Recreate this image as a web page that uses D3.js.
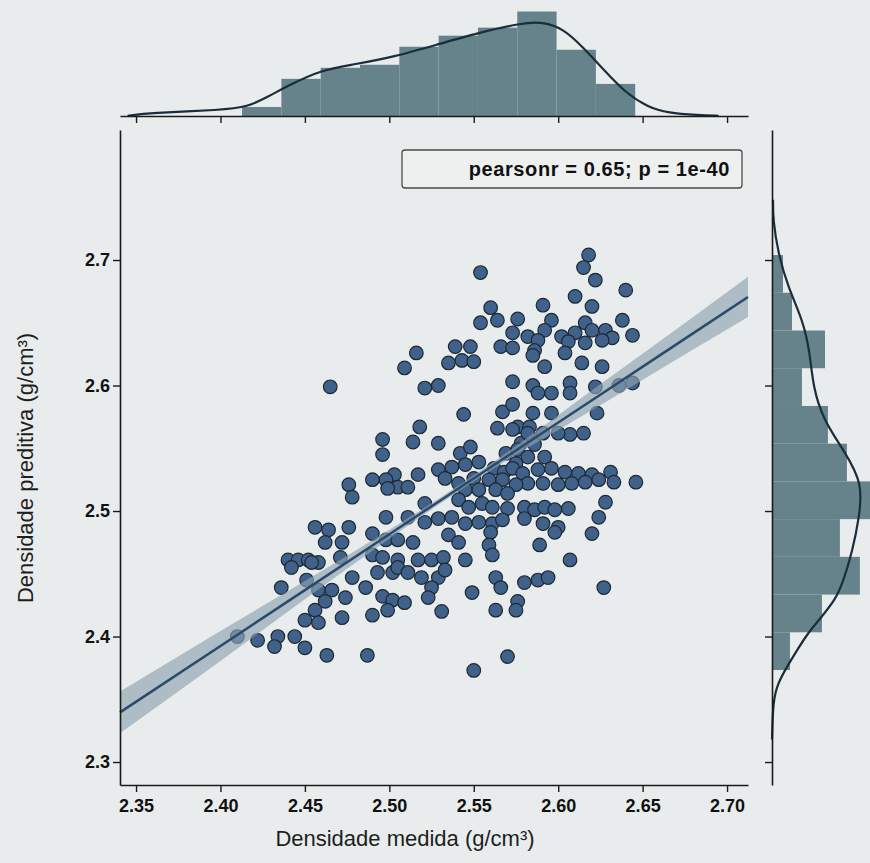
<!DOCTYPE html>
<html lang="pt">
<head>
  <meta charset="UTF-8">
  <title>Densidade medida x preditiva</title>
  <!--Import d3-->
  <script src="https://cdn.jsdelivr.net/npm/d3@7"></script>
  <style>
    body { margin: 0; background: #e9ecec; }
    svg { display: block; }
    .tick text { font-family: "Liberation Sans", Arial, sans-serif; font-weight: bold; font-size: 18px; fill: #111; }
    .label { font-family: "Liberation Sans", Arial, sans-serif; font-size: 22px; fill: #1e1e1e; }
  </style>
</head>
<body>
<div id="chart"></div>

<script>
// pontos do scatter (g/cm3)
var medida = [
  2.554, 2.618, 2.615, 2.622, 2.640, 2.610, 2.620, 2.591, 2.560, 2.564, 2.576, 2.554, 2.596, 2.638, 2.573, 2.644,
  2.616, 2.582, 2.592, 2.588, 2.602, 2.610, 2.620, 2.628, 2.632, 2.626, 2.616, 2.606, 2.566, 2.573, 2.586, 2.604,
  2.585, 2.516, 2.539, 2.548, 2.535, 2.543, 2.550, 2.509, 2.592, 2.614, 2.626, 2.465, 2.521, 2.529, 2.573, 2.585,
  2.588, 2.596, 2.607, 2.607, 2.622, 2.636, 2.644,
  2.544, 2.567, 2.573, 2.585, 2.596, 2.623, 2.518, 2.496, 2.496, 2.514, 2.529, 2.564, 2.576, 2.583, 2.607, 2.615,
  2.542, 2.548, 2.585, 2.578,
  2.573, 2.582, 2.591, 2.600, 2.569, 2.576, 2.586, 2.592, 2.582, 2.575, 2.553, 2.545, 2.537, 2.529, 2.562, 2.568,
  2.573, 2.579, 2.588, 2.596, 2.604, 2.612, 2.620, 2.631, 2.633, 2.646, 2.624, 2.616, 2.608, 2.600, 2.591, 2.582,
  2.575, 2.567, 2.559, 2.550, 2.541, 2.533, 2.517, 2.503, 2.498, 2.490, 2.505, 2.511, 2.476, 2.478, 2.499, 2.545,
  2.553, 2.563, 2.570, 2.521, 2.541, 2.547, 2.555, 2.561, 2.570, 2.580, 2.586, 2.592, 2.598, 2.606, 2.628, 2.624,
  2.498, 2.511, 2.521, 2.529, 2.537, 2.545, 2.553, 2.561, 2.567, 2.580, 2.591, 2.600, 2.456, 2.464, 2.476, 2.490,
  2.620,
  2.462, 2.472, 2.498, 2.505, 2.514, 2.535, 2.541, 2.560, 2.559, 2.561, 2.589, 2.598, 2.440, 2.446, 2.452, 2.458,
  2.471, 2.490, 2.496, 2.505, 2.517, 2.525, 2.532, 2.545, 2.607, 2.442, 2.454, 2.436, 2.451, 2.458, 2.466, 2.474,
  2.478, 2.486, 2.493, 2.502, 2.505, 2.511, 2.519, 2.529, 2.533, 2.525, 2.523, 2.549, 2.563, 2.566, 2.580, 2.588,
  2.594, 2.576, 2.575, 2.627, 2.496, 2.502, 2.509, 2.499, 2.490, 2.472, 2.456, 2.450, 2.458, 2.462, 2.531, 2.563,
  2.410, 2.422, 2.434, 2.432, 2.444, 2.450, 2.463, 2.487, 2.550, 2.570
];
var preditiva = [
  2.690, 2.704, 2.694, 2.684, 2.676, 2.671, 2.663, 2.664, 2.662, 2.652, 2.653, 2.650, 2.652, 2.652, 2.642, 2.640,
  2.650, 2.639, 2.644, 2.636, 2.639, 2.642, 2.644, 2.644, 2.638, 2.636, 2.634, 2.635, 2.631, 2.630, 2.628, 2.626,
  2.624, 2.626, 2.631, 2.631, 2.618, 2.620, 2.619, 2.614, 2.615, 2.618, 2.615, 2.599, 2.598, 2.600, 2.603, 2.600,
  2.594, 2.594, 2.602, 2.594, 2.599, 2.600, 2.602,
  2.577, 2.579, 2.585, 2.578, 2.578, 2.578, 2.567, 2.557, 2.545, 2.555, 2.554, 2.566, 2.567, 2.567, 2.561, 2.562,
  2.546, 2.551, 2.557, 2.554,
  2.565, 2.562, 2.562, 2.562, 2.546, 2.549, 2.553, 2.543, 2.543, 2.538, 2.539, 2.537, 2.535, 2.533, 2.534, 2.531,
  2.534, 2.530, 2.533, 2.534, 2.531, 2.530, 2.529, 2.531, 2.523, 2.523, 2.525, 2.523, 2.522, 2.521, 2.522, 2.522,
  2.521, 2.525, 2.525, 2.526, 2.522, 2.526, 2.529, 2.529, 2.525, 2.525, 2.519, 2.519, 2.521, 2.511, 2.518, 2.517,
  2.517, 2.517, 2.514, 2.506, 2.509, 2.503, 2.506, 2.503, 2.502, 2.503, 2.501, 2.503, 2.501, 2.502, 2.507, 2.495,
  2.495, 2.495, 2.491, 2.494, 2.495, 2.490, 2.491, 2.490, 2.493, 2.494, 2.490, 2.487, 2.487, 2.485, 2.487, 2.482,
  2.482,
  2.475, 2.475, 2.477, 2.477, 2.475, 2.481, 2.475, 2.483, 2.473, 2.465, 2.473, 2.483, 2.461, 2.461, 2.461, 2.459,
  2.463, 2.465, 2.463, 2.461, 2.461, 2.461, 2.463, 2.461, 2.461, 2.455, 2.459, 2.439, 2.445, 2.437, 2.437, 2.431,
  2.447, 2.439, 2.451, 2.451, 2.455, 2.451, 2.447, 2.447, 2.453, 2.439, 2.431, 2.435, 2.447, 2.439, 2.443, 2.445,
  2.447, 2.428, 2.421, 2.439, 2.432, 2.429, 2.427, 2.421, 2.417, 2.415, 2.421, 2.413, 2.411, 2.428, 2.420, 2.421,
  2.400, 2.397, 2.400, 2.392, 2.400, 2.391, 2.385, 2.385, 2.373, 2.384
];

// histograma de cima (densidade medida)
var histTopStart = 2.4128, histTopWidth = 0.02328;
var histTopDens = [0.66, 2.72, 3.53, 3.75, 5.07, 5.88, 6.47, 7.65, 4.85, 2.35];
// kde de cima
var kdeTopX = [2.345, 2.358, 2.401, 2.416, 2.428, 2.441, 2.460, 2.478, 2.503, 2.528, 2.553, 2.578, 2.591, 2.603, 2.615, 2.628, 2.640, 2.653, 2.665, 2.683, 2.695];
var kdeTopD = [0.02, 0.22, 0.44, 0.66, 1.40, 2.28, 3.38, 3.75, 4.34, 5.22, 6.10, 6.80, 6.90, 6.40, 5.00, 3.24, 1.69, 0.66, 0.22, 0.07, 0.02];

// histograma da direita (densidade preditiva)
var histRightStart = 2.3733, histRightWidth = 0.03006;
var histRightDens = [1.05, 2.92, 5.14, 3.97, 5.84, 4.38, 3.27, 1.75, 3.10, 1.17, 0.64];
// kde da direita
var kdeRightY = [2.318, 2.349, 2.363, 2.376, 2.389, 2.403, 2.416, 2.429, 2.443, 2.469, 2.495, 2.522, 2.547, 2.573, 2.599, 2.626, 2.652, 2.678, 2.706, 2.732, 2.748];
var kdeRightD = [0.0, 0.06, 0.35, 0.88, 1.46, 2.11, 2.92, 3.68, 4.15, 4.72, 5.10, 5.30, 4.27, 2.98, 2.40, 2.22, 1.81, 0.94, 0.35, 0.06, 0.06];

// reta de regressao e intervalo de confianca
var fitX = [2.3405, 2.40, 2.45, 2.50, 2.53, 2.57, 2.62, 2.67, 2.7124];
var fitY = [2.3396, 2.3925, 2.4370, 2.4815, 2.5082, 2.5438, 2.5883, 2.6328, 2.6706];
var fitCI = [0.0167, 0.0120, 0.0072, 0.0036, 0.0024, 0.0032, 0.0080, 0.0120, 0.0160];

// ticks
var xTicks = [2.35, 2.40, 2.45, 2.50, 2.55, 2.60, 2.65, 2.70];
var yTicks = [2.3, 2.4, 2.5, 2.6, 2.7];
var legendText = "pearsonr = 0.65; p = 1e-40";

var W = 870, H = 863;
var pointColor = "#40628a", edgeColor = "#1c2833";
var histColor = "#66828b", kdeColor = "#1a2d3b";

var svg = d3.select("#chart").append("svg")
  .attr("width", W)
  .attr("height", H);

svg.append("rect").attr("width", W).attr("height", H).attr("fill", "#e9ecec");

// escalas
var x = d3.scaleLinear().domain([2.3405, 2.7124]).range([120, 748]);
var y = d3.scaleLinear().domain([2.2817, 2.8036]).range([785, 130]);
var yTop = d3.scaleLinear().domain([0, 8.2]).range([116, 4]);
var xRight = d3.scaleLinear().domain([0, 6]).range([772, 874.6]);

var pts = medida.map(function(d, i) { return { x: d, y: preditiva[i] }; });

// ---- grafico principal ----
var mainG = svg.append("g");

mainG.selectAll("circle.pt")
  .data(pts)
  .enter()
  .append("circle")
  .attr("class", "pt")
  .attr("cx", function(d) { return x(d.x); })
  .attr("cy", function(d) { return y(d.y); })
  .attr("r", 6.8)
  .attr("fill", pointColor)
  .attr("stroke", edgeColor)
  .attr("stroke-width", 1.2);

var fit = fitX.map(function(d, i) { return { x: d, y: fitY[i], ci: fitCI[i] }; });

mainG.append("path")
  .datum(fit)
  .attr("fill", "#8ea3b1")
  .attr("fill-opacity", 0.65)
  .attr("d", d3.area()
    .x(function(d) { return x(d.x); })
    .y0(function(d) { return y(d.y - d.ci); })
    .y1(function(d) { return y(d.y + d.ci); })
    .curve(d3.curveMonotoneX));

mainG.append("path")
  .datum(fit)
  .attr("fill", "none")
  .attr("stroke", "#2a4a6c")
  .attr("stroke-width", 2.5)
  .attr("d", d3.line()
    .x(function(d) { return x(d.x); })
    .y(function(d) { return y(d.y); }));

// eixos
svg.append("g")
  .attr("transform", "translate(0,785)")
  .call(d3.axisBottom(x).tickValues(xTicks).tickFormat(d3.format(".2f")).tickSize(7).tickPadding(7).tickSizeOuter(0));

svg.append("g")
  .attr("transform", "translate(120,0)")
  .call(d3.axisLeft(y).tickValues(yTicks).tickFormat(d3.format(".1f")).tickSize(7).tickPadding(3).tickSizeOuter(0));

// ---- marginal de cima ----
var topG = svg.append("g");
topG.selectAll("rect")
  .data(histTopDens)
  .enter()
  .append("rect")
  .attr("x", function(d, i) { return x(histTopStart + i * histTopWidth); })
  .attr("width", function(d, i) { return x(histTopStart + (i + 1) * histTopWidth) - x(histTopStart + i * histTopWidth); })
  .attr("y", function(d) { return yTop(d); })
  .attr("height", function(d) { return yTop(0) - yTop(d); })
  .attr("fill", histColor);

topG.append("path")
  .datum(kdeTopX.map(function(d, i) { return [d, kdeTopD[i]]; }))
  .attr("fill", "none")
  .attr("stroke", kdeColor)
  .attr("stroke-width", 2.2)
  .attr("d", d3.line()
    .x(function(d) { return x(d[0]); })
    .y(function(d) { return yTop(d[1]); })
    .curve(d3.curveBasis));

svg.append("g")
  .attr("transform", "translate(0," + yTop(0) + ")")
  .call(d3.axisBottom(x).tickValues(xTicks).tickFormat("").tickSize(7).tickSizeOuter(0));

// ---- marginal da direita ----
var rightG = svg.append("g");
rightG.selectAll("rect")
  .data(histRightDens)
  .enter()
  .append("rect")
  .attr("x", xRight(0))
  .attr("width", function(d) { return xRight(d) - xRight(0); })
  .attr("y", function(d, i) { return y(histRightStart + (i + 1) * histRightWidth); })
  .attr("height", function(d, i) { return y(histRightStart + i * histRightWidth) - y(histRightStart + (i + 1) * histRightWidth); })
  .attr("fill", histColor);

rightG.append("path")
  .datum(kdeRightY.map(function(d, i) { return [kdeRightD[i], d]; }))
  .attr("fill", "none")
  .attr("stroke", kdeColor)
  .attr("stroke-width", 2.2)
  .attr("d", d3.line()
    .x(function(d) { return xRight(d[0]); })
    .y(function(d) { return y(d[1]); })
    .curve(d3.curveBasis));

svg.append("g")
  .attr("transform", "translate(" + xRight(0) + ",0)")
  .call(d3.axisLeft(y).tickValues(yTicks).tickFormat("").tickSize(7).tickSizeOuter(0));

// estilo das linhas dos eixos
svg.selectAll(".domain").attr("stroke", "#1a1a1a").attr("stroke-width", 1.6);
svg.selectAll(".tick line").attr("stroke", "#1a1a1a").attr("stroke-width", 1.4);

// legenda
svg.append("rect")
  .attr("x", 402).attr("y", 150)
  .attr("width", 340).attr("height", 38)
  .attr("rx", 3)
  .attr("fill", "#eef0f0")
  .attr("stroke", "#4a4a4a")
  .attr("stroke-width", 1.3);

svg.append("text")
  .attr("x", 730).attr("y", 176)
  .attr("text-anchor", "end")
  .style("font-family", "'Liberation Sans', Arial, sans-serif")
  .style("font-weight", "bold")
  .style("font-size", "20px")
  .style("letter-spacing", "0.6px")
  .attr("fill", "#111")
  .text(legendText);

// titulos dos eixos
svg.append("text")
  .attr("class", "label")
  .attr("x", 405).attr("y", 846)
  .attr("text-anchor", "middle")
  .text("Densidade medida (g/cm³)");

svg.append("text")
  .attr("class", "label")
  .attr("transform", "translate(33,468) rotate(-90)")
  .attr("text-anchor", "middle")
  .text("Densidade preditiva (g/cm³)");
</script>
</body>
</html>
